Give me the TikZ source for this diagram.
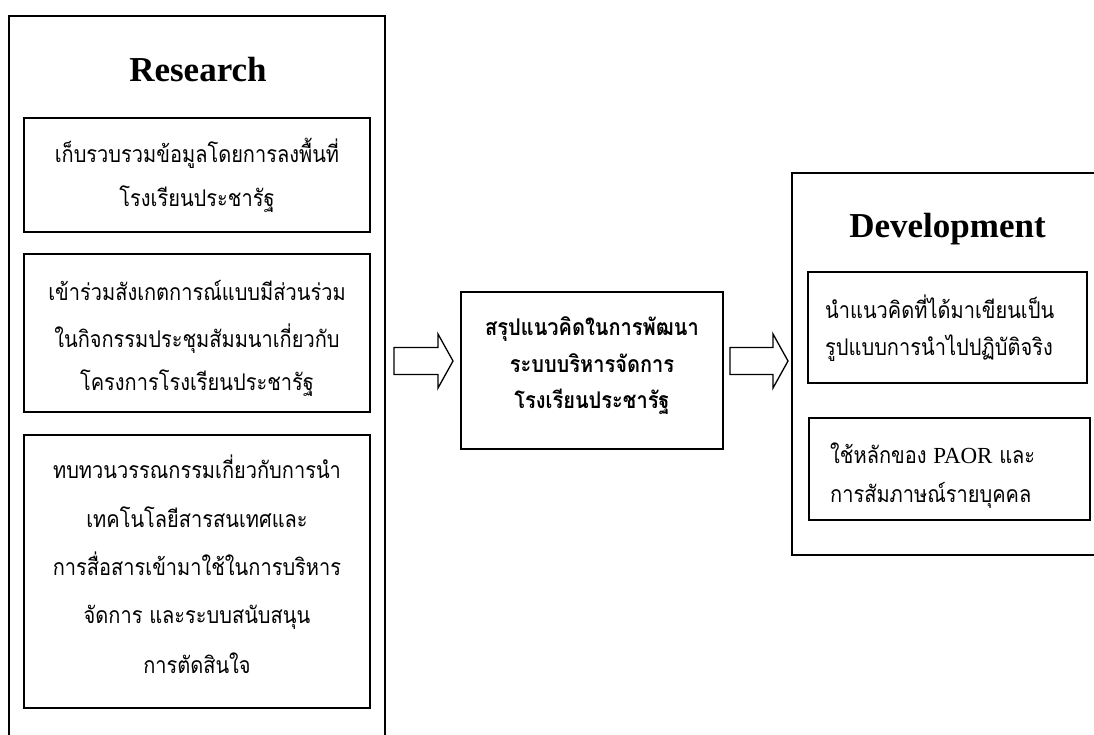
\documentclass[tikz,border=0pt]{standalone}
\usepackage{fontspec}
\setmainfont{Liberation Serif}
\newfontfamily\thai[Script=Thai,FakeStretch=0.87]{Loma}
\newfontfamily\latinn{Liberation Serif}
\usetikzlibrary{calc}
\newcommand\blockarrow[2]{%
  \draw[arrowline] let \p1=(#1), \p2=(#2) in
    (\x1,\y1+13.5pt) -- (\x2-15pt,\y1+13.5pt) -- (\x2-15pt,\y1+27pt) -- (\x2,\y2)
    -- (\x2-15pt,\y1-27pt) -- (\x2-15pt,\y1-13.5pt) -- (\x1,\y1-13.5pt) -- cycle;}
\begin{document}
\begin{tikzpicture}[x=1pt,y=-1pt,
  box/.style={draw,line width=1.6pt,inner sep=0pt,outer sep=0pt},
  arrowline/.style={draw,line width=1.3pt,line join=miter,fill=white},
  title/.style={anchor=base,inner sep=0pt,font=\bfseries\fontsize{35}{40}\selectfont},
  ln/.style={anchor=base,inner sep=0pt,font=\thai\fontsize{23}{26}\selectfont},
  lnb/.style={anchor=base,inner sep=0pt,font=\thai\bfseries\fontsize{23}{26}\selectfont},
  lnl/.style={anchor=base west,inner sep=0pt,font=\thai\fontsize{23}{26}\selectfont}]
\useasboundingbox (0,0) rectangle (1094,735);
\clip (0,0) rectangle (1094,735);
% boxes
\node[box,minimum width=376pt,minimum height=744pt] (outerL) at (197,388) {};
\node[box,minimum width=346pt,minimum height=114pt] (b1) at (197,175) {};
\node[box,minimum width=346pt,minimum height=158pt] (b2) at (197,333) {};
\node[box,minimum width=346pt,minimum height=273pt] (b3) at (197,571.5) {};
\node[box,minimum width=262pt,minimum height=157pt] (mid) at (592,370.5) {};
\node[box,minimum width=318pt,minimum height=382pt] (outerR) at (951,364) {};
\node[box,minimum width=279pt,minimum height=111pt] (r1) at (947.5,327.5) {};
\node[box,minimum width=281pt,minimum height=102pt] (r2) at (949.5,469) {};
% titles
\node[title] (tR) at (198,82) {Research};
\node[title] (tD) at (947.5,238) {Development};
% box 1
\node[ln] (b1a) at (197,163) {เก็บรวบรวมข้อมูลโดยการลงพื้นที่};
\node[ln] (b1b) at (197,207) {โรงเรียนประชารัฐ};
% box 2
\node[ln] (b2a) at (197,300) {เข้าร่วมสังเกตการณ์แบบมีส่วนร่วม};
\node[ln] (b2b) at (197,347) {ในกิจกรรมประชุมสัมมนาเกี่ยวกับ};
\node[ln] (b2c) at (197,390) {โครงการโรงเรียนประชารัฐ};
% box 3
\node[ln] (b3a) at (197,478) {ทบทวนวรรณกรรมเกี่ยวกับการนำ};
\node[ln] (b3b) at (197,527) {เทคโนโลยีสารสนเทศและ};
\node[ln] (b3c) at (197,575) {การสื่อสารเข้ามาใช้ในการบริหาร};
\node[ln] (b3d) at (197,623) {จัดการ และระบบสนับสนุน};
\node[ln] (b3e) at (197,673) {การตัดสินใจ};
% middle
\node[lnb] (m1) at (592,335) {สรุปแนวคิดในการพัฒนา};
\node[lnb] (m2) at (592,372) {ระบบบริหารจัดการ};
\node[lnb] (m3) at (592,408) {โรงเรียนประชารัฐ};
% right
\node[lnl] (r1a) at (825,318) {นำแนวคิดที่ได้มาเขียนเป็น};
\node[lnl] (r1b) at (825,355) {รูปแบบการนำไปปฏิบัติจริง};
\node[lnl] (r2a) at (830,463) {ใช้หลักของ {\latinn\fontsize{23}{26}\selectfont PAOR} และ};
\node[lnl] (r2b) at (830,502) {การสัมภาษณ์รายบุคคล};
% block arrows
\coordinate (a1tail) at ($(outerL.east |- mid.west)+(9,-9.5)$);
\coordinate (a1tip) at ($(mid.west)+(-8,-9.5)$);
\coordinate (a2tail) at ($(mid.east)+(7,-9.5)$);
\coordinate (a2tip) at ($(outerR.west |- mid.west)+(-4,-9.5)$);
\blockarrow{a1tail}{a1tip}
\blockarrow{a2tail}{a2tip}
\end{tikzpicture}
\end{document}
